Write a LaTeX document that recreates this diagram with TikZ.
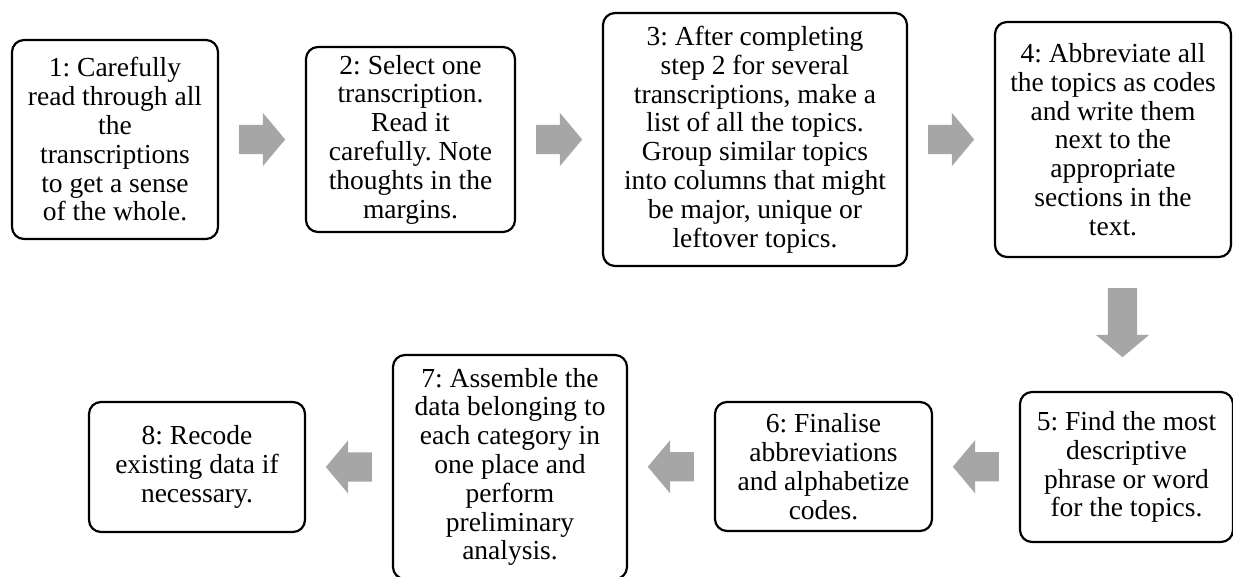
\documentclass[tikz,border=0pt]{standalone}
\usepackage{fontspec}
\setmainfont{Liberation Serif}
\usepackage{tikz}
\usepackage{xcolor}
\usetikzlibrary{shapes.arrows,calc}
\frenchspacing
\definecolor{arrow-gray}{RGB}{166,166,166}
\tikzset{
    step-box/.style = {draw=black, fill=white, line width=2.2pt, rectangle, rounded corners=12pt, align=center, inner sep=0pt, font=\fontsize{27.5}{28.8}\selectfont},
    flow-arrow/.style = {single arrow, fill=arrow-gray, draw=none, anchor=tail, inner xsep=0pt, inner ysep=14.5pt, single arrow head extend=12pt, single arrow tip angle=100, minimum height=#1},
    flow-arrow/.default = 46pt,
}

\begin{document}
\begin{tikzpicture}[x=1pt, y=-1pt]
\useasboundingbox (0,0) rectangle (1233,577);
% top row
\node [step-box, minimum width=206pt, minimum height=199pt] (b1) at (115,139.5) {1: Carefully\\read through all\\the\\transcriptions\\to get a sense\\of the whole.};
\node [step-box, minimum width=209pt, minimum height=185pt] (b2) at (410.5,139.5) {2: Select one\\transcription.\\Read it\\carefully. Note\\thoughts in the\\margins.};
\node [step-box, minimum width=304pt, minimum height=253pt] (b3) at (755,139.5) {3: After completing\\step 2 for several\\transcriptions, make a\\list of all the topics.\\Group similar topics\\into columns that might\\be major, unique or\\leftover topics.};
\node [step-box, minimum width=236pt, minimum height=235pt] (b4) at (1113,139.5) {4: Abbreviate all\\the topics as codes\\and write them\\next to the\\appropriate\\sections in the\\text.};
% bottom row
\node [step-box, minimum width=213pt, minimum height=150pt] (b5) at (1126.5,467) {5: Find the most\\descriptive\\phrase or word\\for the topics.};
\node [step-box, minimum width=217pt, minimum height=129pt] (b6) at (823.5,466.5) {6: Finalise\\abbreviations\\and alphabetize\\codes.};
\node [step-box, minimum width=234pt, minimum height=224pt] (b7) at (510,467) {7: Assemble the\\data belonging to\\each category in\\one place and\\perform\\preliminary\\analysis.};
\node [step-box, minimum width=216pt, minimum height=130pt] (b8) at (197,467) {8: Recode\\existing data if\\necessary.};

% block arrows between the steps
\node [flow-arrow] (a12) at ($(b1.east)!0.5!(b2.west)+(-23,0)$) {};
\node [flow-arrow] (a23) at ($(b2.east)!0.5!(b3.west)+(-23,0)$) {};
\node [flow-arrow] (a34) at ($(b3.east)!0.5!(b4.west)+(-23,0)$) {};
\node [flow-arrow=69pt, rotate=-90] (a45) at (1122.5,288) {};
\node [flow-arrow, rotate=180] (a56) at ($(b5.west)!0.5!(b6.east)+(23,0)$) {};
\node [flow-arrow, rotate=180] (a67) at ($(b6.west)!0.5!(b7.east)+(23,0)$) {};
\node [flow-arrow, rotate=180] (a78) at ($(b7.west)!0.5!(b8.east)+(23,0)$) {};
\end{tikzpicture}
\end{document}
